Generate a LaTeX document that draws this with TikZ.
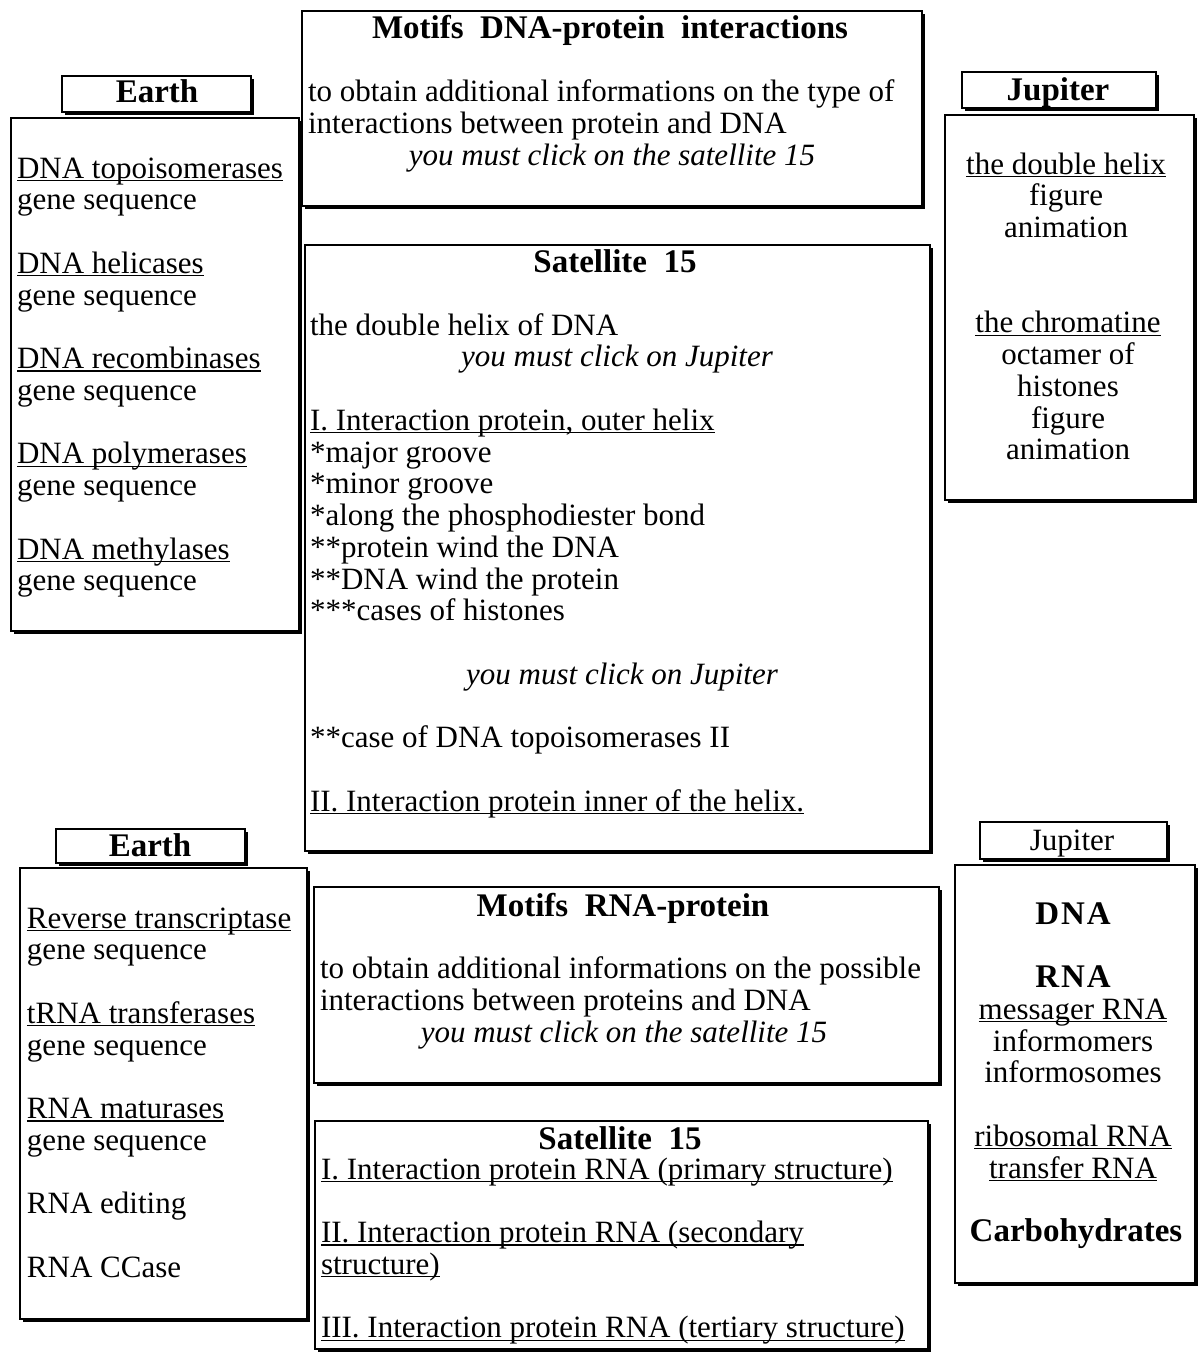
\documentclass[tikz,border=0pt]{standalone}
\usepackage{fontspec}
\setmainfont{Liberation Serif}
\usetikzlibrary{fit}
\newcommand\uln[1]{\setbox0\hbox{#1}\rlap{\rule[-3.2pt]{\wd0}{1.3pt}}\box0}
\newcommand\shadowof[1]{\draw[shade] ([xshift=1.2pt,yshift=-3pt]#1.north east) -- ([xshift=1.2pt,yshift=-1.2pt]#1.south east) -- ([xshift=3pt,yshift=-1.2pt]#1.south west);}
\tikzset{
 panel/.style={draw, line width=1.6pt, inner sep=0pt, outer sep=0pt},
 shade/.style={line width=3.4pt},
 txt/.style={inner sep=0pt, outer sep=0pt, font=\fontsize{31}{31.75}\selectfont},
 itl/.style={inner sep=0pt, outer sep=0pt, font=\fontsize{31}{31.75}\selectfont\itshape},
 ttl/.style={inner sep=0pt, outer sep=0pt, font=\fontsize{33}{34}\selectfont\bfseries},
}
\begin{document}
\begin{tikzpicture}[x=1pt,y=-1pt]
\useasboundingbox (0,0) rectangle (1198,1353);
% ---------- boxes ----------
\node[panel, fit={(302,11) (922,206)}] (mdna) {};
\node[panel, fit={(62,76) (251,112)}] (e1lab) {};
\node[panel, fit={(11,118) (299,631)}] (e1) {};
\node[panel, fit={(962,72) (1156,108)}] (j1lab) {};
\node[panel, fit={(945,115) (1194,500)}] (j1) {};
\node[panel, fit={(305,245) (930,851)}] (s1) {};
\node[panel, fit={(56,829) (245,863)}] (e2lab) {};
\node[panel, fit={(20,868) (307,1319)}] (e2) {};
\node[panel, fit={(980,822) (1167,859)}] (j2lab) {};
\node[panel, fit={(955,865) (1195,1283)}] (j2) {};
\node[panel, fit={(314,887) (939,1083)}] (mrna) {};
\node[panel, fit={(315,1121) (928,1349)}] (s2) {};
\foreach \b in {mdna,e1lab,e1,j1lab,j1,s1,e2lab,e2,j2lab,j2,mrna,s2} {\shadowof{\b}}
% ---------- Motifs DNA-protein interactions ----------
\node[ttl, anchor=base] (mdnat) at (610,38) {Motifs~~DNA-protein~~interactions};
\node[txt, anchor=base west] (mdna1) at (308,101) {to obtain additional informations on the type of};
\node[txt, anchor=base west] (mdna2) at (308,133) {interactions between protein and DNA};
\node[itl, anchor=base] (mdna3) at (612,165) {you must click on the satellite 15};
% ---------- Earth (top) ----------
\node[ttl, anchor=base] (e1t) at (157,102) {Earth};
\node[txt, anchor=base west] (e1a) at (17,178) {\uln{DNA topoisomerases}};
\node[txt, anchor=base west] (e1b) at (17,209.75) {gene sequence};
\node[txt, anchor=base west] (e1c) at (17,273.25) {\uln{DNA helicases}};
\node[txt, anchor=base west] (e1d) at (17,305) {gene sequence};
\node[txt, anchor=base west] (e1e) at (17,368.5) {\uln{DNA recombinases}};
\node[txt, anchor=base west] (e1f) at (17,400.25) {gene sequence};
\node[txt, anchor=base west] (e1g) at (17,463.75) {\uln{DNA polymerases}};
\node[txt, anchor=base west] (e1h) at (17,495.5) {gene sequence};
\node[txt, anchor=base west] (e1i) at (17,559) {\uln{DNA methylases}};
\node[txt, anchor=base west] (e1j) at (17,590.75) {gene sequence};
% ---------- Jupiter (top) ----------
\node[ttl, anchor=base] (j1t) at (1058,100) {Jupiter};
\node[txt, anchor=base] (j1a) at (1066,174) {\uln{the double helix}};
\node[txt, anchor=base] (j1b) at (1066,205.75) {figure};
\node[txt, anchor=base] (j1c) at (1066,237.5) {animation};
\node[txt, anchor=base] (j1d) at (1068,332.75) {\uln{the chromatine}};
\node[txt, anchor=base] (j1e) at (1068,364.5) {octamer of};
\node[txt, anchor=base] (j1f) at (1068,396.25) {histones};
\node[txt, anchor=base] (j1g) at (1068,428) {figure};
\node[txt, anchor=base] (j1h) at (1068,459.75) {animation};
% ---------- Satellite 15 (top) ----------
\node[ttl, anchor=base] (s1t) at (615,272) {Satellite~~15};
\node[txt, anchor=base west] (s1a) at (310,335) {the double helix of DNA};
\node[itl, anchor=base] (s1b) at (617,366.75) {you must click on Jupiter};
\node[txt, anchor=base west] (s1c) at (310,430.25) {\uln{I. Interaction protein, outer helix}};
\node[txt, anchor=base west] (s1d) at (310,462) {*major groove};
\node[txt, anchor=base west] (s1e) at (310,493.75) {*minor groove};
\node[txt, anchor=base west] (s1f) at (310,525.5) {*along the phosphodiester bond};
\node[txt, anchor=base west] (s1g) at (310,557.25) {**protein wind the DNA};
\node[txt, anchor=base west] (s1h) at (310,589) {**DNA wind the protein};
\node[txt, anchor=base west] (s1i) at (310,620.75) {***cases of histones};
\node[itl, anchor=base] (s1j) at (622,684.25) {you must click on Jupiter};
\node[txt, anchor=base west] (s1k) at (310,747.75) {**case of DNA topoisomerases II};
\node[txt, anchor=base west] (s1l) at (310,811.25) {\uln{II. Interaction protein inner of the helix.}};
% ---------- Earth (bottom) ----------
\node[ttl, anchor=base] (e2t) at (150,856) {Earth};
\node[txt, anchor=base west] (e2a) at (27,928) {\uln{Reverse transcriptase}};
\node[txt, anchor=base west] (e2b) at (27,959.75) {gene sequence};
\node[txt, anchor=base west] (e2c) at (27,1023.25) {\uln{tRNA transferases}};
\node[txt, anchor=base west] (e2d) at (27,1055) {gene sequence};
\node[txt, anchor=base west] (e2e) at (27,1118.5) {\uln{RNA maturases}};
\node[txt, anchor=base west] (e2f) at (27,1150.25) {gene sequence};
\node[txt, anchor=base west] (e2g) at (27,1213.75) {RNA editing};
\node[txt, anchor=base west] (e2h) at (27,1277.25) {RNA CCase};
% ---------- Motifs RNA-protein ----------
\node[ttl, anchor=base] (mrnat) at (623,916) {Motifs~~RNA-protein};
\node[txt, anchor=base west] (mrna1) at (320,978) {to obtain additional informations on the possible};
\node[txt, anchor=base west] (mrna2) at (320,1010) {interactions between proteins and DNA};
\node[itl, anchor=base] (mrna3) at (624,1042) {you must click on the satellite 15};
% ---------- Satellite 15 (bottom) ----------
\node[ttl, anchor=base] (s2t) at (620,1149) {Satellite~~15};
\node[txt, anchor=base west] (s2a) at (321,1179) {\uln{I. Interaction protein RNA (primary structure)}};
\node[txt, anchor=base west] (s2b) at (321,1242.5) {\uln{II. Interaction protein RNA (secondary}};
\node[txt, anchor=base west] (s2c) at (321,1274.25) {\uln{structure)}};
\node[txt, anchor=base west] (s2d) at (321,1337.75) {\uln{III. Interaction protein RNA (tertiary structure)}};
% ---------- Jupiter (bottom) ----------
\node[txt, anchor=base] (j2t) at (1072,850) {Jupiter};
\node[ttl, anchor=base] (j2a) at (1073,924) {D\kern2ptN\kern2ptA};
\node[ttl, anchor=base] (j2b) at (1073,987.5) {R\kern2ptN\kern2ptA};
\node[txt, anchor=base] (j2c) at (1073,1019.25) {\uln{messager RNA}};
\node[txt, anchor=base] (j2d) at (1073,1051) {informomers};
\node[txt, anchor=base] (j2e) at (1073,1082.75) {informosomes};
\node[txt, anchor=base] (j2f) at (1073,1146.25) {\uln{ribosomal RNA}};
\node[txt, anchor=base] (j2g) at (1073,1178) {\uln{transfer RNA}};
\node[ttl, anchor=base] (j2h) at (1076,1241.5) {Carbohydrates};
\end{tikzpicture}
\end{document}
